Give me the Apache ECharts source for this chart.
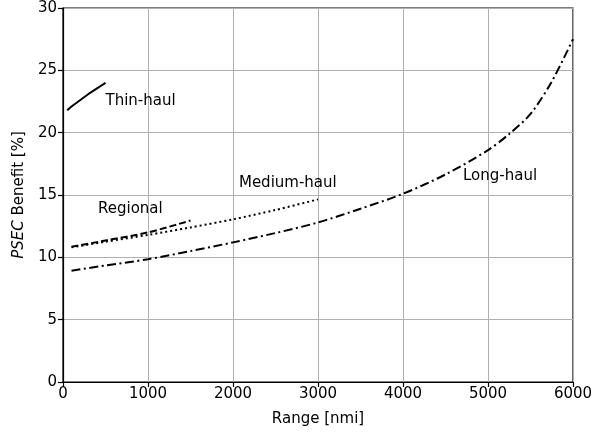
<!DOCTYPE html>
<html><head><meta charset="utf-8">
<script src="https://cdn.jsdelivr.net/npm/echarts@6/dist/echarts.min.js"></script>
<style>html,body{margin:0;padding:0;background:#fff}#c{width:603px;height:433px}</style>
</head><body><div id="c"></div>
<script>
const xTicks = [0, 1000, 2000, 3000, 4000, 5000, 6000];
const yTicks = [0, 5, 10, 15, 20, 25, 30];

const thinRange = [50, 100, 200, 300, 400, 500];
const thinBenefit = [21.8, 22.1, 22.6, 23.1, 23.55, 24.0];

const regionalRange = [100, 500, 1000, 1500];
const regionalBenefit = [10.85, 11.35, 12.0, 12.95];

const mediumRange = [100, 500, 1000, 1500, 2000, 2500, 3000];
const mediumBenefit = [10.8, 11.25, 11.8, 12.4, 13.05, 13.8, 14.65];

const longRange = [100, 500, 1000, 1500, 2000, 2500, 3000, 3500, 4000, 4500, 5000, 5250, 5500, 5750, 6000];
const longBenefit = [8.93, 9.35, 9.85, 10.5, 11.2, 11.95, 12.8, 13.9, 15.1, 16.65, 18.6, 19.9, 21.5, 24.1, 27.5];

const labelNames = ['Thin-haul', 'Regional', 'Medium-haul', 'Long-haul'];
const labelX = [500, 412, 2070, 4706];
const labelY = [22.5, 13.9, 15.95, 16.5];

const zip = (a, b) => a.map((v, i) => [v, b[i]]);
const FONT = 'DejaVu Sans';
const FS = 15;

const chart = echarts.init(document.getElementById('c'), null, {renderer: 'canvas'});

function mkLine(name, xs, ys, type) {
  return {
    name, type: 'line', data: zip(xs, ys), showSymbol: false, smooth: 0.3,
    lineStyle: {color: '#000', width: 2, type: type},
    animation: false, z: 5
  };
}

const series = [
  mkLine('Thin-haul', thinRange, thinBenefit, 'solid'),
  mkLine('Regional', regionalRange, regionalBenefit, [7, 3]),
  mkLine('Medium-haul', mediumRange, mediumBenefit, [2, 3]),
  mkLine('Long-haul', longRange, longBenefit, [9, 3.5, 2, 3.5])
];
series.push({
  type: 'scatter', symbolSize: 0, animation: false, silent: true,
  itemStyle: {opacity: 1},
  data: labelNames.map((n, i) => ({value: [labelX[i], labelY[i]], name: n})),
  label: {show: true, position: 'right', distance: 0, formatter: p => p.name,
    color: '#000', fontFamily: FONT, fontSize: FS}
});

chart.setOption({
  animation: false,
  backgroundColor: '#fff',
  grid: {left: 63, right: 30, top: 8, bottom: 51, show: true, borderColor: '#000', borderWidth: 1.2, backgroundColor: 'transparent'},
  xAxis: {
    type: 'value', min: 0, max: 6000, interval: 1000,
    name: 'Range [nmi]', nameLocation: 'middle', nameGap: 30,
    nameTextStyle: {color: '#000', fontFamily: FONT, fontSize: FS},
    axisLine: {show: true, onZero: false, lineStyle: {color: '#000', width: 1.2}},
    axisTick: {show: true, length: 5, lineStyle: {color: '#000', width: 1.2}},
    axisLabel: {color: '#000', fontFamily: FONT, fontSize: FS, margin: 5, formatter: v => String(v)},
    splitLine: {show: true, lineStyle: {color: '#b0b0b0', width: 1}}
  },
  yAxis: {
    type: 'value', min: 0, max: 30, interval: 5,
    name: '{i|PSEC} Benefit [%]', nameLocation: 'middle', nameGap: 35, nameRotate: 90,
    nameTextStyle: {color: '#000', fontFamily: FONT, fontSize: FS,
      rich: {i: {fontStyle: 'italic', fontFamily: FONT, fontSize: FS, color: '#000'}}},
    axisLine: {show: true, onZero: false, lineStyle: {color: '#000', width: 1.2}},
    axisTick: {show: true, length: 5, lineStyle: {color: '#000', width: 1.2}},
    axisLabel: {color: '#000', fontFamily: FONT, fontSize: FS, margin: 6},
    splitLine: {show: true, lineStyle: {color: '#b0b0b0', width: 1}}
  },
  series: series
});
</script></body></html>
